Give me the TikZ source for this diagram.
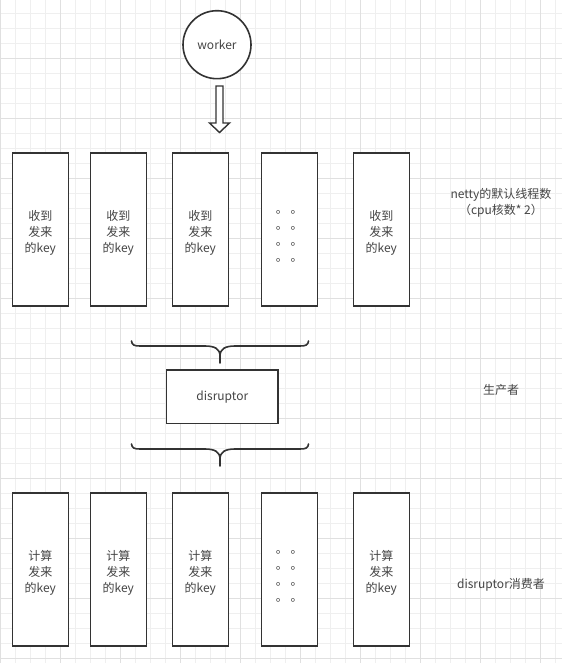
\documentclass[tikz,border=0pt]{standalone}
\usepackage{fontspec}
\newfontfamily\cjk{Noto Sans CJK SC}
\usetikzlibrary{positioning}
\definecolor{gridminor}{HTML}{EFEFEF}
\definecolor{gridmajor}{HTML}{E0E0E0}
\definecolor{ink}{HTML}{333333}
\definecolor{txt}{HTML}{444444}

\begin{document}
\begin{tikzpicture}[x=1pt,y=-1pt,
    lbl/.style={align=center,text=txt,font=\cjk\fontsize{12}{16}\selectfont},
    box/.style={draw=ink,line width=1.6pt,fill=white,minimum width=56pt,minimum height=153pt,
      inner sep=0pt,lbl},
    keys/.style={label={[lbl,yshift=-3pt]center:{#1\\发来\\的key}}},
    dots/.style={label={[lbl,yshift=-6.5pt]center:{。 。\\。 。\\。 。\\。 。}}},
    curly/.style={draw=ink,line width=1.6pt,line cap=round}]
    % 背景网格
    \useasboundingbox (0,0) rectangle (562,663);
    \fill[white] (0,0) rectangle (562,663);
    \foreach \k in {0,...,37} \draw[gridminor,line width=1pt] (0.7+15*\k,0) -- (0.7+15*\k,663);
    \foreach \k in {0,...,43} \draw[gridminor,line width=1pt] (0,13.3+15*\k) -- (562,13.3+15*\k);
    \foreach \k in {0,...,9} \draw[gridmajor,line width=1pt] (0.7+60*\k,0) -- (0.7+60*\k,663);
    \foreach \k in {0,...,10} \draw[gridmajor,line width=1pt] (0,58.3+60*\k) -- (562,58.3+60*\k);

    % worker
    \node[circle,draw=ink,line width=1.6pt,fill=white,minimum size=68pt,lbl] (worker) at (217,44.7) {worker};
    \draw[ink,line width=1.4pt,fill=white] (216,86) -- (223,86) -- (223,123) -- (229.5,123)
      -- (219.5,132.5) -- (209.5,123) -- (216,123) -- cycle;

    % netty 线程
    \node[box,keys=收到] (recv1) at (40.3,229.7) {};
    \node[box,keys=收到] (recv2) at (118.3,229.7) {};
    \node[box,keys=收到] (recv3) at (200.3,229.7) {};
    \node[box,dots] (recvdots) at (289.3,229.7) {};
    \node[box,keys=收到] (recvn) at (381.3,229.7) {};
    \node[lbl] (threads) at (501,203) {netty的默认线程数\\（cpu核数* 2）};

    % disruptor
    \draw[curly] (220,363) -- (220,356) .. controls (220,349) and (215,346) .. (205,346) -- (140,346)
      .. controls (134,346) and (132,345) .. (131.5,341);
    \draw[curly] (220,356) .. controls (220,349) and (225,346) .. (235,346) -- (300,346)
      .. controls (306,346) and (308,345) .. (308.5,341);
    \node[box,minimum width=111.7pt,minimum height=53.7pt] (disruptor) at (222.3,396.7) {disruptor};
    \node[lbl] (producer) at (501,389.5) {生产者};
    \draw[curly] (220,466) -- (220,459) .. controls (220,452) and (215,449) .. (205,449) -- (140,449)
      .. controls (134,449) and (132,448) .. (131.5,444);
    \draw[curly] (220,459) .. controls (220,452) and (225,449) .. (235,449) -- (300,449)
      .. controls (306,449) and (308,448) .. (308.5,444);

    % 消费者
    \node[box,keys=计算] (calc1) at (40.3,569.7) {};
    \node[box,keys=计算] (calc2) at (118.3,569.7) {};
    \node[box,keys=计算] (calc3) at (200.3,569.7) {};
    \node[box,dots] (calcdots) at (289.3,569.7) {};
    \node[box,keys=计算] (calcn) at (381.3,569.7) {};
    \node[lbl] (consumer) at (501,585) {disruptor消费者};
\end{tikzpicture}
\end{document}
